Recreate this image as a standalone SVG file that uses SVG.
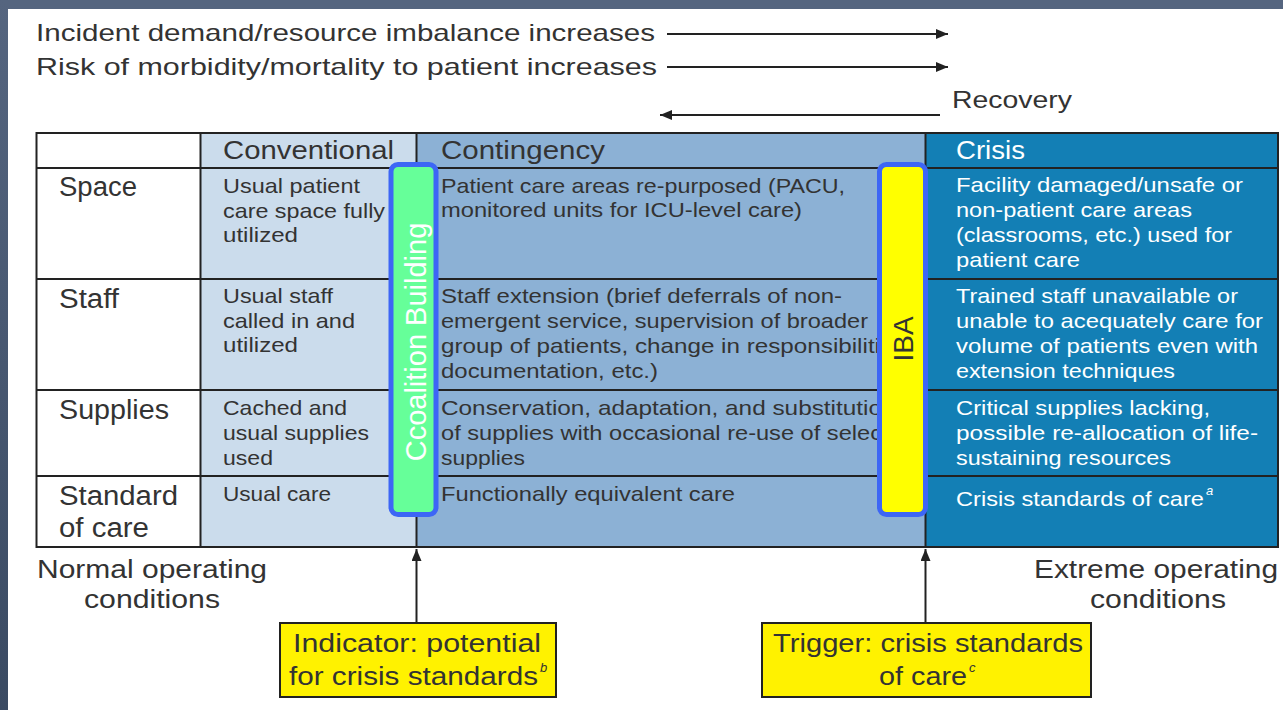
<svg xmlns="http://www.w3.org/2000/svg" width="1283" height="710" viewBox="0 0 1283 710">
<style>
.t{font-family:"Liberation Sans",Arial,sans-serif;fill:#333}
.w{fill:#fff}
.s24{font-size:24px}
.s25{font-size:25px}
.s27{font-size:27px}
.s22{font-size:21px}
.sup{font-family:"Liberation Sans",Arial,sans-serif;font-size:13px;font-style:italic}
.grid{stroke:#222;stroke-width:2;fill:none}
.conn{stroke:#222;stroke-width:2;fill:none}
.vbox{stroke:#3d66f5;stroke-width:5}
.ybox{fill:#fff200;stroke:#222;stroke-width:2}
.vt{font-family:"Liberation Sans",Arial,sans-serif}
</style>
<defs>
<linearGradient id="lg" x1="0" y1="0" x2="0" y2="1">
<stop offset="0" stop-color="#55657f"/>
<stop offset="1" stop-color="#3a4a62"/>
</linearGradient>
<marker id="ah" viewBox="0 0 12 10" refX="12" refY="5" markerWidth="12" markerHeight="10" orient="auto" markerUnits="userSpaceOnUse">
<path d="M0,0 L12,5 L0,10 z" fill="#222"/>
</marker>
</defs>
<rect x="0" y="0" width="1283" height="710" fill="#fff"/>
<rect x="0" y="0" width="1283" height="9" fill="#55657f"/>
<rect x="0" y="0" width="8" height="710" fill="url(#lg)"/>

<g id="top-labels">
<text class="t s24" x="36" y="41" textLength="619" lengthAdjust="spacingAndGlyphs">Incident demand/resource imbalance increases</text>
<text class="t s24" x="36" y="75" textLength="621" lengthAdjust="spacingAndGlyphs">Risk of morbidity/mortality to patient increases</text>
<text class="t s24" x="952" y="108" textLength="120" lengthAdjust="spacingAndGlyphs">Recovery</text>
</g>

<g id="table">
<rect x="36.5" y="133" width="164" height="414" fill="#fff"/>
<rect x="200.5" y="133" width="216" height="414" fill="#cbdcec"/>
<rect x="416.5" y="133" width="509" height="414" fill="#8cb1d5"/>
<rect x="925.5" y="133" width="352.5" height="414" fill="#137fb5"/>
<path class="grid" d="M36.5,133 H1278 V547 H36.5 Z M36.5,168 H1278 M36.5,279 H1278 M36.5,390 H1278 M36.5,476 H1278 M200.5,133 V547 M416.5,133 V547 M925.5,133 V547"/>
</g>

<g id="headers">
<text class="t s25" x="223" y="159" textLength="171" lengthAdjust="spacingAndGlyphs">Conventional</text>
<text class="t s25" x="441" y="159" textLength="164" lengthAdjust="spacingAndGlyphs">Contingency</text>
<text class="t w s25" x="956" y="159" textLength="69" lengthAdjust="spacingAndGlyphs">Crisis</text>
</g>

<g id="row-labels">
<text class="t s27" x="59" y="196" textLength="78" lengthAdjust="spacingAndGlyphs">Space</text>
<text class="t s27" x="59" y="308" textLength="60" lengthAdjust="spacingAndGlyphs">Staff</text>
<text class="t s27" x="59" y="419" textLength="110" lengthAdjust="spacingAndGlyphs">Supplies</text>
<text class="t s27" x="59" y="505" textLength="119" lengthAdjust="spacingAndGlyphs">Standard</text>
<text class="t s27" x="59" y="537" textLength="90" lengthAdjust="spacingAndGlyphs">of care</text>
</g>

<g id="conventional-cells">
<text class="t s22" x="223" y="193" textLength="137" lengthAdjust="spacingAndGlyphs">Usual patient</text>
<text class="t s22" x="223" y="218" textLength="162" lengthAdjust="spacingAndGlyphs">care space fully</text>
<text class="t s22" x="223" y="242" textLength="75" lengthAdjust="spacingAndGlyphs">utilized</text>
<text class="t s22" x="223" y="303" textLength="110" lengthAdjust="spacingAndGlyphs">Usual staff</text>
<text class="t s22" x="223" y="328" textLength="132" lengthAdjust="spacingAndGlyphs">called in and</text>
<text class="t s22" x="223" y="352" textLength="75" lengthAdjust="spacingAndGlyphs">utilized</text>
<text class="t s22" x="223" y="415" textLength="124" lengthAdjust="spacingAndGlyphs">Cached and</text>
<text class="t s22" x="223" y="440" textLength="146" lengthAdjust="spacingAndGlyphs">usual supplies</text>
<text class="t s22" x="223" y="465" textLength="50" lengthAdjust="spacingAndGlyphs">used</text>
<text class="t s22" x="223" y="501" textLength="108" lengthAdjust="spacingAndGlyphs">Usual care</text>
</g>

<g id="contingency-cells">
<text class="t s22" x="441" y="193" textLength="404" lengthAdjust="spacingAndGlyphs">Patient care areas re-purposed (PACU,</text>
<text class="t s22" x="441" y="217" textLength="361" lengthAdjust="spacingAndGlyphs">monitored units for ICU-level care)</text>
<text class="t s22" x="441" y="303" textLength="401" lengthAdjust="spacingAndGlyphs">Staff extension (brief deferrals of non-</text>
<text class="t s22" x="441" y="328" textLength="427" lengthAdjust="spacingAndGlyphs">emergent service, supervision of broader</text>
<text class="t s22" x="441" y="353" textLength="439" lengthAdjust="spacingAndGlyphs">group of patients, change in responsibiliti</text>
<text class="t s22" x="441" y="378" textLength="217" lengthAdjust="spacingAndGlyphs">documentation, etc.)</text>
<text class="t s22" x="441" y="415" textLength="441" lengthAdjust="spacingAndGlyphs">Conservation, adaptation, and substitutio</text>
<text class="t s22" x="441" y="440" textLength="441" lengthAdjust="spacingAndGlyphs">of supplies with occasional re-use of selec</text>
<text class="t s22" x="441" y="465" textLength="84" lengthAdjust="spacingAndGlyphs">supplies</text>
<text class="t s22" x="441" y="501" textLength="294" lengthAdjust="spacingAndGlyphs">Functionally equivalent care</text>
</g>

<g id="crisis-cells">
<text class="t w s22" x="956" y="192" textLength="287" lengthAdjust="spacingAndGlyphs">Facility damaged/unsafe or</text>
<text class="t w s22" x="956" y="217" textLength="236" lengthAdjust="spacingAndGlyphs">non-patient care areas</text>
<text class="t w s22" x="956" y="242" textLength="276" lengthAdjust="spacingAndGlyphs">(classrooms, etc.) used for</text>
<text class="t w s22" x="956" y="267" textLength="124" lengthAdjust="spacingAndGlyphs">patient care</text>
<text class="t w s22" x="956" y="303" textLength="282" lengthAdjust="spacingAndGlyphs">Trained staff unavailable or</text>
<text class="t w s22" x="956" y="328" textLength="307" lengthAdjust="spacingAndGlyphs">unable to acequately care for</text>
<text class="t w s22" x="956" y="353" textLength="302" lengthAdjust="spacingAndGlyphs">volume of patients even with</text>
<text class="t w s22" x="956" y="378" textLength="219" lengthAdjust="spacingAndGlyphs">extension techniques</text>
<text class="t w s22" x="956" y="415" textLength="254" lengthAdjust="spacingAndGlyphs">Critical supplies lacking,</text>
<text class="t w s22" x="956" y="440" textLength="302" lengthAdjust="spacingAndGlyphs">possible re-allocation of life-</text>
<text class="t w s22" x="956" y="465" textLength="215" lengthAdjust="spacingAndGlyphs">sustaining resources</text>
<text class="t w s22" x="956" y="506" textLength="248" lengthAdjust="spacingAndGlyphs">Crisis standards of care</text>
<text class="sup" x="1206" y="495" fill="#fff" font-size="11">a</text>
</g>

<g id="coalition-building">
<rect class="vbox" x="391" y="164.5" width="45" height="350" rx="7" fill="#66ff99"/>
<text class="vt" transform="translate(426,342) rotate(-90)" text-anchor="middle" font-size="29" fill="#fff">Ccoalition Building</text>
</g>

<g id="iba">
<rect class="vbox" x="879.5" y="164.5" width="46" height="350" rx="7" fill="#ffff00"/>
<text class="vt" transform="translate(913,339) rotate(-90)" text-anchor="middle" font-size="28" fill="#333">IBA</text>
</g>

<g id="operating-labels">
<text class="t s25" x="37" y="578" textLength="230" lengthAdjust="spacingAndGlyphs">Normal operating</text>
<text class="t s25" x="84" y="608" textLength="136" lengthAdjust="spacingAndGlyphs">conditions</text>
<text class="t s25" x="1034" y="578" textLength="244" lengthAdjust="spacingAndGlyphs">Extreme operating</text>
<text class="t s25" x="1090" y="608" textLength="136" lengthAdjust="spacingAndGlyphs">conditions</text>
</g>

<g id="indicator">
<rect class="ybox" x="280" y="623" width="276" height="74"/>
<text class="t s25" x="293" y="652" textLength="248" lengthAdjust="spacingAndGlyphs">Indicator: potential</text>
<text class="t s25" x="289" y="685" textLength="249" lengthAdjust="spacingAndGlyphs">for crisis standards</text>
<text class="sup" x="540" y="672" fill="#333">b</text>
</g>

<g id="trigger">
<rect class="ybox" x="762" y="623" width="329" height="74"/>
<text class="t s25" x="773" y="652" textLength="310" lengthAdjust="spacingAndGlyphs">Trigger: crisis standards</text>
<text class="t s25" x="879" y="685" textLength="88" lengthAdjust="spacingAndGlyphs">of care</text>
<text class="sup" x="969" y="672" fill="#333">c</text>
</g>

<g id="connectors">
<line class="conn" x1="667" y1="34" x2="948" y2="34" marker-end="url(#ah)"/>
<line class="conn" x1="667" y1="67" x2="948" y2="67" marker-end="url(#ah)"/>
<line class="conn" x1="940" y1="115" x2="660" y2="115" marker-end="url(#ah)"/>
<line class="conn" x1="416.5" y1="623" x2="416.5" y2="549" marker-end="url(#ah)"/>
<line class="conn" x1="925.5" y1="623" x2="925.5" y2="549" marker-end="url(#ah)"/>
</g>
</svg>
